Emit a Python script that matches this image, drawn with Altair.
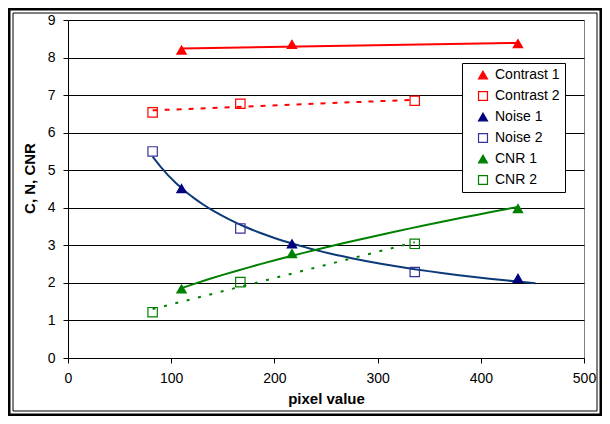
import altair as alt
import pandas as pd

# ---- data ----
series_names = ["Contrast 1", "Contrast 2", "Noise 1", "Noise 2", "CNR 1", "CNR 2"]
x_set1 = [110, 217, 436]          # pixel values for the "1" series
x_set2 = [82, 167, 336]           # pixel values for the "2" series
contrast1 = [8.20, 8.35, 8.37]
contrast2 = [6.54, 6.77, 6.85]
noise1 = [4.51, 3.04, 2.12]
noise2 = [5.50, 3.45, 2.29]
cnr1 = [1.84, 2.78, 3.98]
cnr2 = [1.22, 2.02, 3.04]

x_ticks = [0, 100, 200, 300, 400, 500]
y_ticks = [0, 1, 2, 3, 4, 5, 6, 7, 8, 9]

stroke_colors = ["#FF0000", "#FF0000", "#000080", "#333399", "#008000", "#008000"]
fill_colors = ["#FF0000", "transparent", "#000080", "transparent", "#008000", "transparent"]
shapes = ["triangle-up", "square", "triangle-up", "square", "triangle-up", "square"]

rows = []
for name, xs, ys in [
    ("Contrast 1", x_set1, contrast1),
    ("Contrast 2", x_set2, contrast2),
    ("Noise 1", x_set1, noise1),
    ("Noise 2", x_set2, noise2),
    ("CNR 1", x_set1, cnr1),
    ("CNR 2", x_set2, cnr2),
]:
    for xv, yv in zip(xs, ys):
        rows.append({"series": name, "x": xv, "y": yv})
df = pd.DataFrame(rows)

FONT = "Liberation Sans"

x_scale = alt.Scale(domain=[0, 500], nice=False)
y_scale = alt.Scale(domain=[0, 9], nice=False)

x_axis = alt.Axis(values=x_ticks, grid=False, title="pixel value", format="d",
                  labelFlush=False, labelPadding=8, titlePadding=6)
y_axis = alt.Axis(values=y_ticks, grid=True, title="C, N, CNR", format="d",
                  labelFlush=False, labelPadding=8, titlePadding=10, titleY=158)


def trend(names, method, color, dash=None, extent=None):
    kw = {}
    if extent is not None:
        kw["extent"] = extent
    mk = dict(color=color, strokeWidth=2)
    if dash is not None:
        mk["strokeDash"] = dash
    return (
        alt.Chart(df)
        .transform_filter(alt.FieldOneOfPredicate(field="series", oneOf=names))
        .transform_regression("x", "y", method=method, **kw)
        .mark_line(**mk)
        .encode(
            x=alt.X("x:Q", scale=x_scale, axis=x_axis),
            y=alt.Y("y:Q", scale=y_scale, axis=y_axis),
        )
    )


t_c1 = trend(["Contrast 1"], "linear", "#FF0000")
t_c2 = trend(["Contrast 2"], "linear", "#FF0000", dash=[5, 7])
t_n = trend(["Noise 1", "Noise 2"], "pow", "#0B3A78", extent=[82, 453])
t_r1 = trend(["CNR 1"], "pow", "#008000")
t_r2 = trend(["CNR 2"], "linear", "#008000", dash=[3, 8.7])

points = (
    alt.Chart(df)
    .mark_point(filled=True, strokeWidth=1.2, size=88, opacity=1)
    .encode(
        x=alt.X("x:Q", scale=x_scale, axis=x_axis),
        y=alt.Y("y:Q", scale=y_scale, axis=y_axis),
        stroke=alt.Stroke("series:N", scale=alt.Scale(domain=series_names, range=stroke_colors), title=None),
        fill=alt.Fill("series:N", scale=alt.Scale(domain=series_names, range=fill_colors), title=None),
        shape=alt.Shape("series:N", scale=alt.Scale(domain=series_names, range=shapes), title=None),
    )
)

frame_data = alt.Data(values=[{"k": 1}])
frame_outer = alt.Chart(frame_data).mark_rect(
    fillOpacity=0, stroke="black", strokeWidth=2.5
).encode(
    x=alt.value(-58.75), x2=alt.value(532.75), y=alt.value(-10.75), y2=alt.value(394.75)
)
frame_inner = alt.Chart(frame_data).mark_rect(
    fillOpacity=0, stroke="black", strokeWidth=1
).encode(
    x=alt.value(-55), x2=alt.value(529), y=alt.value(-7), y2=alt.value(391)
)

chart = (
    alt.layer(t_c1, t_c2, t_n, t_r1, t_r2, points, frame_outer, frame_inner)
    .properties(
        width=516,
        height=338,
        padding={"left": 60, "top": 12, "right": 18, "bottom": 58},
        autosize=alt.AutoSizeParams(type="none"),
        background="white",
    )
    .configure_view(stroke="#808080", strokeWidth=1)
    .configure_axis(
        labelFont=FONT,
        labelFontSize=14,
        labelColor="black",
        titleFont=FONT,
        titleFontSize=15,
        titleFontWeight="bold",
        titleColor="black",
        domainColor="black",
        tickColor="black",
        tickSize=5,
        gridColor="black",
        gridWidth=1,
        gridOpacity=1,
    )
    .configure_legend(
        orient="none",
        legendX=394,
        legendY=43,
        strokeColor="black",
        fillColor="white",
        padding=5,
        rowPadding=7,
        labelFont=FONT,
        labelFontSize=14,
        labelColor="black",
        symbolSize=80,
        symbolOffset=9,
        labelOffset=5,
        symbolStrokeWidth=1.2,
    )
)

chart.save("out.html", embed_options={"renderer": "svg", "actions": False})
